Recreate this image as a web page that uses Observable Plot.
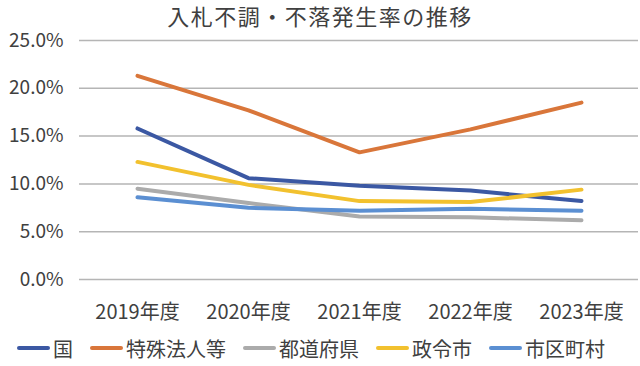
<!DOCTYPE html>
<html>
<head>
<meta charset="utf-8">
<script src="https://cdn.jsdelivr.net/npm/d3@7"></script>
<script src="https://cdn.jsdelivr.net/npm/@observablehq/plot@0.6"></script>
<style>
  html, body { margin: 0; padding: 0; background: #fff; }
  body { width: 640px; height: 366px; overflow: hidden; font-family: "Noto Sans CJK JP", "Noto Sans", sans-serif; }
  #title { height: 20px; line-height: 30px; font-size: 22px; color: #404040; text-align: center; letter-spacing: 1.5px; overflow: visible; position: relative; z-index: 2; }
  #legend { display: flex; justify-content: flex-start; align-items: center; padding-left: 17px; font-size: 20px; color: #404040; height: 36px; }
  .item { display: flex; align-items: center; margin-right: 17px; }
  .sw { width: 33px; height: 4px; margin-right: 3px; border-radius: 2px; }
</style>
</head>
<body>
<div id="title">入札不調・不落発生率の推移</div>
<div id="chart"></div>
<div id="legend"></div>
<script>
const years = ["2019年度", "2020年度", "2021年度", "2022年度", "2023年度"];
const seriesNames = ["国", "特殊法人等", "都道府県", "政令市", "市区町村"];
const seriesColors = ["#3b58a3", "#d9763a", "#ababab", "#f2c12e", "#5b8fd2"];
const kuni       = [15.8, 10.6, 9.8, 9.3, 8.2];
const tokushu    = [21.3, 17.7, 13.3, 15.7, 18.5];
const todofuken  = [9.5, 8.0, 6.6, 6.5, 6.2];
const seirei     = [12.3, 9.9, 8.2, 8.1, 9.4];
const shikuchoson= [8.6, 7.5, 7.2, 7.4, 7.2];
const yTicks = [0, 5, 10, 15, 20, 25];

const seriesValues = [kuni, tokushu, todofuken, seirei, shikuchoson];
const data = [];
seriesNames.forEach((name, i) => {
  years.forEach((yr, j) => data.push({series: name, year: yr, value: seriesValues[i][j]}));
});

const chart = Plot.plot({
  width: 640,
  height: 310,
  marginTop: 20,
  marginLeft: 79,
  marginRight: 2,
  marginBottom: 51,
  style: { fontFamily: '"Noto Sans CJK JP", sans-serif', background: "#fff" },
  x: { type: "point", domain: years, padding: 0.5, label: null },
  y: { domain: [0, 25], label: null },
  color: { domain: seriesNames, range: seriesColors },
  marks: [
    Plot.gridY(yTicks, { stroke: "#b5b5b5", strokeOpacity: 1, strokeWidth: 1.5 }),
    Plot.axisY(yTicks, { tickSize: 0, tickPadding: 16, fontSize: 19, fill: "#404040", tickFormat: d => d.toFixed(1) + "%", label: null }),
    Plot.axisX({ tickSize: 0, tickPadding: 25, fontSize: 20, fill: "#404040", label: null }),
    Plot.line(data, { x: "year", y: "value", z: "series", stroke: "series", strokeWidth: 4, strokeLinecap: "round", strokeLinejoin: "round" })
  ]
});
document.getElementById("chart").appendChild(chart);

const legend = document.getElementById("legend");
seriesNames.forEach((name, i) => {
  const it = document.createElement("div");
  it.className = "item";
  const sw = document.createElement("span");
  sw.className = "sw";
  sw.style.background = seriesColors[i];
  const t = document.createElement("span");
  t.textContent = name;
  it.appendChild(sw); it.appendChild(t);
  legend.appendChild(it);
});
</script>
</body>
</html>
